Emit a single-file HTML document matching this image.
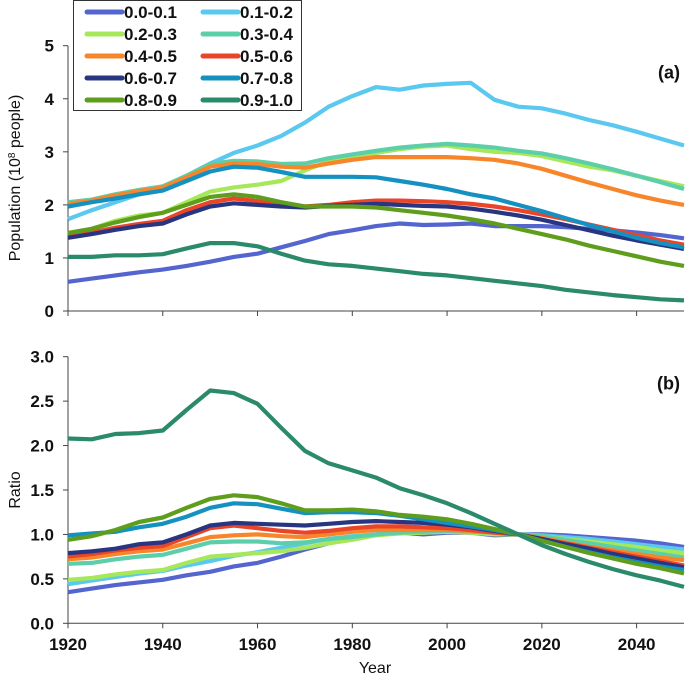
<!DOCTYPE html>
<html><head><meta charset="utf-8"><style>
body{margin:0;background:#fff;}
svg text{font-family:"Liberation Sans",Arial,sans-serif;font-weight:bold;fill:#111;}
</style></head><body>
<svg id="chart" width="685" height="677" viewBox="0 0 685 677"></svg>
<script>
const years=[1920,1925,1930,1935,1940,1945,1950,1955,1960,1965,1970,1975,1980,1985,1990,1995,2000,2005,2010,2015,2020,2025,2030,2035,2040,2045,2050];
const seriesNames=["0.0-0.1","0.1-0.2","0.2-0.3","0.3-0.4","0.4-0.5","0.5-0.6","0.6-0.7","0.7-0.8","0.8-0.9","0.9-1.0"];
const colors=["#5465cf","#5bc8f0","#a6e85a","#5ccfaa","#f7862a","#ea4429","#283580","#1491c0","#5e9e1c","#2a8a6a"];
const popTicks=[0,1,2,3,4,5];
const ratioTicks=["0.0","0.5","1.0","1.5","2.0","2.5","3.0"];
const yearTicks=[1920,1940,1960,1980,2000,2020,2040];
const pop1=[.55,.61,.67,.73,.78,.85,.93,1.02,1.08,1.2,1.32,1.45,1.52,1.6,1.65,1.62,1.63,1.65,1.6,1.6,1.6,1.58,1.55,1.52,1.48,1.43,1.37];
const pop2=[1.73,1.9,2.05,2.2,2.3,2.55,2.78,2.98,3.12,3.3,3.55,3.85,4.05,4.22,4.17,4.25,4.28,4.3,3.98,3.85,3.82,3.72,3.6,3.5,3.38,3.25,3.12];
const pop3=[1.45,1.55,1.7,1.8,1.85,2.05,2.25,2.33,2.38,2.45,2.65,2.82,2.9,2.98,3.05,3.1,3.12,3.05,3.0,2.98,2.92,2.82,2.72,2.65,2.55,2.45,2.35];
const pop4=[2.05,2.1,2.2,2.28,2.35,2.55,2.77,2.83,2.82,2.77,2.78,2.88,2.95,3.02,3.08,3.12,3.15,3.12,3.08,3.02,2.97,2.88,2.78,2.67,2.55,2.43,2.3];
const pop5=[2.02,2.08,2.18,2.26,2.33,2.52,2.72,2.78,2.77,2.72,2.7,2.78,2.85,2.9,2.9,2.9,2.9,2.88,2.85,2.78,2.68,2.55,2.42,2.3,2.18,2.08,2.0];
const pop6=[1.4,1.48,1.57,1.64,1.7,1.9,2.05,2.12,2.07,2.0,1.97,2.0,2.05,2.08,2.08,2.07,2.05,2.02,1.97,1.9,1.82,1.73,1.63,1.53,1.43,1.33,1.25];
const pop7=[1.38,1.45,1.53,1.6,1.65,1.82,1.97,2.03,2.0,1.97,1.95,1.98,2.0,2.02,2.0,1.98,1.97,1.93,1.87,1.8,1.72,1.62,1.52,1.42,1.33,1.25,1.17];
const pop8=[1.97,2.05,2.12,2.2,2.27,2.45,2.63,2.72,2.7,2.62,2.53,2.53,2.53,2.52,2.45,2.38,2.3,2.2,2.12,2.0,1.88,1.75,1.62,1.5,1.38,1.28,1.2];
const pop9=[1.47,1.55,1.67,1.77,1.85,2.0,2.15,2.2,2.15,2.05,1.97,1.97,1.97,1.95,1.9,1.85,1.8,1.73,1.65,1.55,1.45,1.35,1.23,1.13,1.03,.93,.85];
const pop10=[1.02,1.02,1.05,1.05,1.07,1.18,1.28,1.28,1.22,1.08,.95,.88,.85,.8,.75,.7,.67,.62,.57,.52,.47,.4,.35,.3,.26,.22,.2];
const ratio1=[.35,.39,.43,.46,.49,.54,.58,.64,.68,.75,.83,.9,.95,1.0,1.02,1.0,1.02,1.02,.99,1.0,1.0,.99,.97,.95,.93,.9,.86];
const ratio2=[.44,.48,.52,.56,.59,.65,.7,.76,.8,.85,.9,.95,.98,1.0,1.02,1.02,1.03,1.03,1.01,1.0,.99,.97,.95,.92,.89,.86,.83];
const ratio3=[.49,.51,.55,.58,.6,.68,.75,.77,.79,.81,.85,.9,.94,.99,1.01,1.02,1.03,1.02,1.0,1.0,.98,.95,.92,.89,.86,.82,.79];
const ratio4=[.67,.68,.72,.75,.77,.84,.91,.92,.92,.9,.91,.95,.97,1.0,1.02,1.03,1.04,1.03,1.02,1.0,.98,.94,.9,.86,.82,.78,.74];
const ratio5=[.72,.74,.78,.81,.83,.9,.97,.99,1.0,.98,.97,1.0,1.03,1.05,1.05,1.05,1.05,1.04,1.02,1.0,.96,.91,.86,.82,.78,.74,.71];
const ratio6=[.75,.78,.82,.85,.87,.97,1.07,1.1,1.07,1.04,1.02,1.04,1.07,1.09,1.09,1.08,1.07,1.05,1.02,1.0,.95,.9,.85,.8,.75,.7,.65];
const ratio7=[.79,.81,.84,.89,.91,1.0,1.1,1.13,1.12,1.11,1.1,1.12,1.14,1.15,1.14,1.13,1.11,1.08,1.04,1.0,.95,.89,.84,.78,.73,.68,.63];
const ratio8=[.99,1.01,1.03,1.08,1.12,1.2,1.3,1.35,1.34,1.29,1.24,1.25,1.25,1.24,1.21,1.17,1.13,1.09,1.05,1.0,.93,.86,.8,.74,.69,.64,.6];
const ratio9=[.94,.98,1.05,1.14,1.19,1.3,1.4,1.44,1.42,1.35,1.27,1.27,1.28,1.26,1.22,1.2,1.17,1.12,1.06,1.0,.93,.86,.79,.73,.67,.62,.56];
const ratio10=[2.08,2.07,2.13,2.14,2.17,2.4,2.62,2.59,2.47,2.2,1.94,1.8,1.72,1.64,1.52,1.44,1.35,1.24,1.12,1.0,.88,.78,.69,.61,.54,.48,.41];
const popSeries=[pop1,pop2,pop3,pop4,pop5,pop6,pop7,pop8,pop9,pop10];
const ratioSeries=[ratio1,ratio2,ratio3,ratio4,ratio5,ratio6,ratio7,ratio8,ratio9,ratio10];

const svg=document.getElementById('chart');
const NS='http://www.w3.org/2000/svg';
function mk(tag,attrs,parent){const e=document.createElementNS(NS,tag);for(const k in attrs)e.setAttribute(k,attrs[k]);(parent||svg).appendChild(e);return e;}
const X0=68,X1=684;
const xScale=y=>X0+(y-1920)*(X1-X0)/130;
const yA=v=>311-v*(311-45.7)/5;
const yB=v=>623.3-v*(623.3-356.7)/3;

function panel(name,yScale,ticks,series,tag,yTitle,yTitleY){
  const g=mk('g',{});
  
  
  const base=yScale(0),top=yScale(Number(ticks[ticks.length-1]));
  const ax=mk('path',{d:`M${X0},${top}V${base}H${X1}`,stroke:'#444','stroke-width':1,fill:'none'},g);
  
  
  ticks.forEach(t=>{
    const y=yScale(Number(t));
    mk('line',{x1:X0-5,x2:X0,y1:y,y2:y,stroke:'#444'},g);
    const tx=mk('text',{x:X0-14,y:y+6,'text-anchor':'end','font-size':17},g);
    tx.textContent=t;
    
    
  });
  yearTicks.forEach(yr=>{mk('line',{x1:xScale(yr),x2:xScale(yr),y1:base,y2:base+5,stroke:'#444'},g);});
  series.forEach((s,i)=>{
    const d=s.map((v,j)=>(j?'L':'M')+xScale(years[j]).toFixed(1)+','+yScale(v).toFixed(1)).join('');
    const p=mk('path',{d,stroke:colors[i],'stroke-width':4.2,fill:'none','stroke-linejoin':'round'},g);
    
    
  });
  const t=mk('text',{x:680,y:top+33,'text-anchor':'end','font-size':18},g);
  t.textContent=tag;
  
  
  const yt=mk('text',{x:0,y:0,'text-anchor':'middle','font-size':16,'font-weight':'normal',transform:`translate(20,${yTitleY}) rotate(-90)`},g);
  yt.style.fontWeight='normal';
  yt.innerHTML=yTitle;
  
  
}
panel('panel-a-population',yA,popTicks,popSeries,'(a)','Population (10<tspan baseline-shift="super" font-size="10">8</tspan> people)',178);
panel('panel-b-ratio',yB,ratioTicks,ratioSeries,'(b)','Ratio',490);
yearTicks.forEach(yr=>{
  const t=mk('text',{x:xScale(yr),y:650,'text-anchor':'middle','font-size':17});
  t.textContent=yr;
  
  
});
const xt=mk('text',{x:375,y:673,'text-anchor':'middle','font-size':16});
xt.textContent='Year';
xt.style.fontWeight='normal';



const lg=mk('g',{});


mk('rect',{x:73.5,y:0.5,width:228,height:110,fill:'#fff',stroke:'#333'},lg);
seriesNames.forEach((n,i)=>{
  const col=i%2,row=Math.floor(i/2);
  const lx=col?203:87, ly=12+row*22;
  const e=mk('g',{},lg);
  
  
  mk('line',{x1:lx,x2:lx+35,y1:ly,y2:ly,stroke:colors[i],'stroke-width':5,'stroke-linecap':'round'},e);
  const t=mk('text',{x:lx+37,y:ly+6,'font-size':17},e);
  t.textContent=n;
});
</script>
</body></html>
